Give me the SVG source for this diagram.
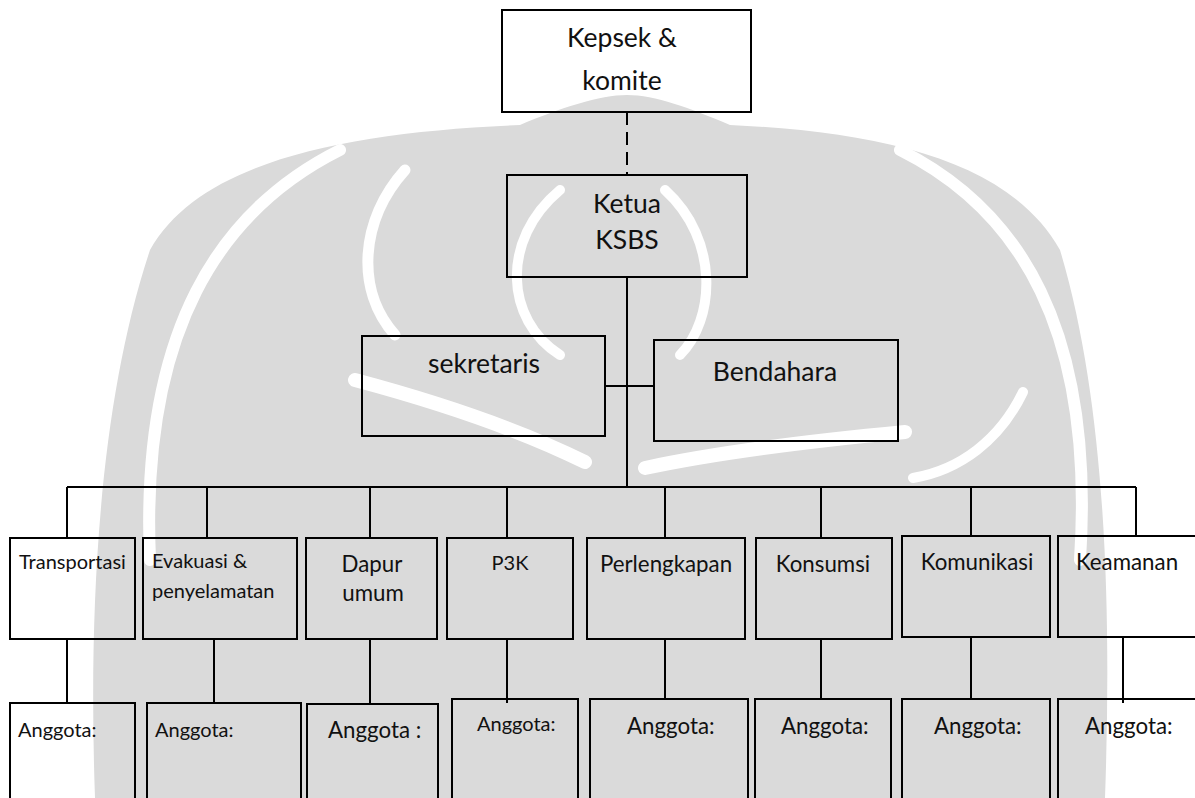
<svg xmlns="http://www.w3.org/2000/svg" width="1195" height="798" viewBox="0 0 1195 798">
<style>
.box{fill:none;stroke:#000;stroke-width:2}
.ln{fill:none;stroke:#000;stroke-width:2}
.wm{fill:#dadada;stroke:none}
.wl{fill:none;stroke:#fff;stroke-linecap:round}
text{font-family:Lato,"Liberation Sans",sans-serif;fill:#111}
.t1{font-size:26.5px}
.t2{font-size:22.3px}
.t3{font-size:20px}
.m{text-anchor:middle}
</style>
<rect width="1195" height="798" fill="#fff"/>
<g id="watermark">
<path class="wm" d="M95 798 C88 600 100 400 150 250 C200 160 350 132 520 125 C560 108 600 95 627 95 C655 95 690 108 730 125 C880 132 1010 160 1060 250 C1105 400 1112 600 1105 798 Z"/>
<path class="wl" stroke-width="12" d="M340 150 C220 210 140 330 150 560"/>
<path class="wl" stroke-width="12" d="M900 150 C1020 210 1095 330 1080 560"/>
<path class="wl" stroke-width="11" d="M405 170 C360 220 355 290 395 335"/>
<path class="wl" stroke-width="10" d="M560 190 C500 240 505 320 560 355"/>
<path class="wl" stroke-width="10" d="M665 190 C720 240 715 320 680 355"/>
<path class="wl" stroke-width="14" d="M355 380 C430 400 510 425 585 462"/>
<path class="wl" stroke-width="14" d="M645 468 C720 452 820 440 905 432"/>
<path class="wl" stroke-width="10" d="M1023 392 C1000 440 960 470 913 478"/>
</g>
<g id="connectors">
<line class="ln" x1="627" y1="112" x2="627" y2="175" stroke-dasharray="13 7"/>
<line class="ln" x1="627" y1="277" x2="627" y2="487"/>
<line class="ln" x1="605" y1="386" x2="654" y2="386"/>
<line class="ln" x1="67" y1="487" x2="1136" y2="487"/>
<path class="ln" d="M67 487V538M207 487V538M370 487V538M507 487V538M665 487V538M821 487V538M971 487V536M1136 487V536"/>
<path class="ln" d="M67 639V703M214 639V703M370 639V704M507 639V703M665 639V699M821 639V699M971 637V699M1123 637V703"/>
</g>
<g id="kepsek"><rect class="box" x="502" y="10" width="249" height="102"/><text class="t1 m" x="622" y="47">Kepsek &amp;</text><text class="t1 m" x="622" y="90">komite</text></g>
<g id="ketua"><rect class="box" x="507" y="175" width="240" height="102"/><text class="t1 m" x="627" y="213">Ketua</text><text class="t1 m" x="627" y="249">KSBS</text></g>
<g id="sekretaris"><rect class="box" x="362" y="336" width="243" height="100"/><text class="t1 m" x="484" y="373">sekretaris</text></g>
<g id="bendahara"><rect class="box" x="654" y="340" width="244" height="101"/><text class="t1 m" x="775" y="381">Bendahara</text></g>
<g id="transportasi"><rect class="box" x="10" y="538" width="125" height="101"/><text class="t3" x="19" y="569">Transportasi</text></g>
<g id="evakuasi"><rect class="box" x="143" y="538" width="154" height="101"/><text class="t3" x="152" y="568">Evakuasi &amp;</text><text class="t3" x="152" y="598">penyelamatan</text></g>
<g id="dapur"><rect class="box" x="306" y="538" width="131" height="101"/><text class="t2 m" x="372" y="572">Dapur</text><text class="t2 m" x="373" y="601">umum</text></g>
<g id="p3k"><rect class="box" x="447" y="538" width="126" height="101"/><text class="t3 m" x="510" y="570">P3K</text></g>
<g id="perlengkapan"><rect class="box" x="587" y="538" width="158" height="101"/><text class="t2 m" x="666" y="572">Perlengkapan</text></g>
<g id="konsumsi"><rect class="box" x="756" y="538" width="136" height="101"/><text class="t2 m" x="823" y="572">Konsumsi</text></g>
<g id="komunikasi"><rect class="box" x="902" y="536" width="148" height="101"/><text class="t2 m" x="977" y="570">Komunikasi</text></g>
<g id="keamanan"><rect class="box" x="1058" y="536" width="150" height="101"/><text class="t2 m" x="1127" y="570">Keamanan</text></g>
<g id="anggota1"><rect class="box" x="10" y="703" width="125" height="110"/><text class="t3" x="18" y="737">Anggota:</text></g>
<g id="anggota2"><rect class="box" x="147" y="703" width="154" height="110"/><text class="t3" x="155" y="737">Anggota:</text></g>
<g id="anggota3"><rect class="box" x="307" y="704" width="131" height="110"/><text class="t2" x="328" y="738">Anggota :</text></g>
<g id="anggota4"><rect class="box" x="452" y="699" width="126" height="110"/><text class="t3" x="477" y="731">Anggota:</text></g>
<g id="anggota5"><rect class="box" x="590" y="699" width="158" height="110"/><text class="t2" x="627" y="734">Anggota:</text></g>
<g id="anggota6"><rect class="box" x="755" y="699" width="136" height="110"/><text class="t2" x="781" y="734">Anggota:</text></g>
<g id="anggota7"><rect class="box" x="902" y="699" width="148" height="110"/><text class="t2" x="934" y="734">Anggota:</text></g>
<g id="anggota8"><rect class="box" x="1058" y="699" width="150" height="110"/><text class="t2" x="1085" y="734">Anggota:</text></g>
</svg>
